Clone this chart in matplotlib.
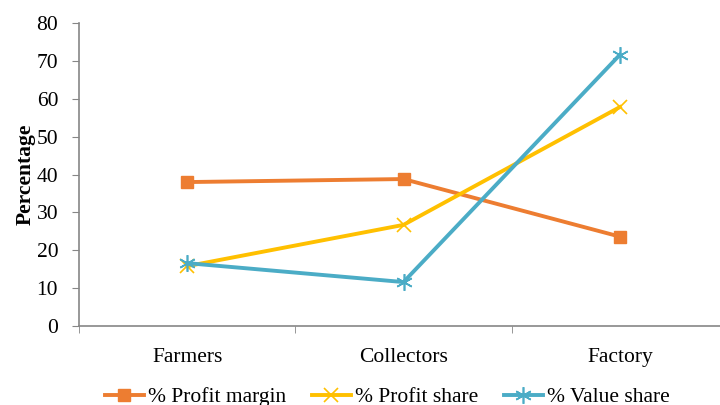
import matplotlib
matplotlib.use("Agg")
import matplotlib.pyplot as plt
from matplotlib.ticker import FixedLocator

plt.rcParams['font.family'] = ['Liberation Serif', 'DejaVu Serif']

stages = ['Farmers', 'Collectors', 'Factory']
profit_margin = [38.0, 38.8, 23.6]
profit_share = [15.8, 26.7, 57.8]
value_share = [16.6, 11.6, 71.6]

fig = plt.figure(figsize=(7.2, 4.05), dpi=100)
ax = fig.add_axes([79 / 720, 1 - 326 / 405, 649 / 720, 303 / 405])

x = range(len(stages))
ax.plot(x, profit_margin, color='#ED7D31', lw=2.8, marker='s', ms=9,
        label='% Profit margin')
ax.plot(x, profit_share, color='#FFC000', lw=2.8, marker='x', ms=10, mew=1.2,
        label='% Profit share')
ax.plot(x, value_share, color='#4BACC6', lw=2.8, marker=(6, 2, 0), ms=12, mew=1.2,
        label='% Value share')

ax.set_xlim(-0.5, 2.5)
ax.set_ylim(0, 80)
ax.set_yticks(range(0, 81, 10))
ax.set_xticks(list(x))
ax.set_xticklabels(stages)
ax.xaxis.set_minor_locator(FixedLocator([-0.5, 0.5, 1.5, 2.5]))
ax.tick_params(axis='x', which='major', length=0, pad=16, labelsize=15.5)
ax.tick_params(axis='x', which='minor', length=5, color='#868686')
ax.tick_params(axis='y', length=5, color='#868686', labelsize=15.5, pad=10)

for side in ['top', 'right']:
    ax.spines[side].set_visible(False)
for side in ['left', 'bottom']:
    ax.spines[side].set_color('#868686')
    ax.spines[side].set_linewidth(1.2)

ax.set_ylabel('Percentage', fontsize=15.5, fontweight='bold', labelpad=0.5)

ax.legend(loc='center', bbox_to_anchor=(0.475, -0.235), ncol=3, frameon=False,
          fontsize=15.5, handlelength=1.8, handletextpad=0.2, columnspacing=1.2)

fig.savefig('out.png', dpi=100)
